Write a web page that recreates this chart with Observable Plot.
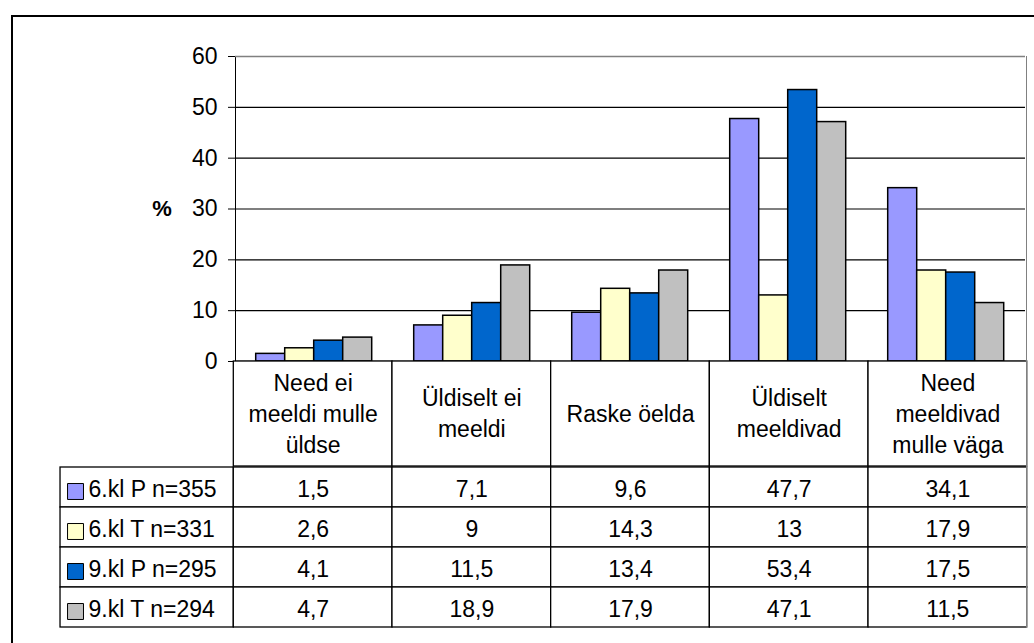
<!DOCTYPE html>
<html>
<head>
<meta charset="utf-8">
<script src="https://cdn.jsdelivr.net/npm/d3@7"></script>
<script src="https://cdn.jsdelivr.net/npm/@observablehq/plot@0.6"></script>
<style>
  html, body { margin: 0; padding: 0; background: #fff; overflow: hidden; }
  #fig { position: relative; width: 1034px; height: 643px; overflow: hidden; font-family: "Liberation Sans", Arial, sans-serif; }
  #frame { position: absolute; left: 11px; top: 15px; width: 1100px; height: 700px; border-left: 2px solid #000; border-top: 2px solid #000; }
  .layer { position: absolute; left: 0; }
  .layer svg { overflow: visible; }
  #rightEdge { position: absolute; left: 1025.5px; top: 56px; width: 1.5px; height: 572px; background: #808080; }
</style>
</head>
<body>
<div id="fig">
  <div id="frame"></div>
  <div id="chart" class="layer" style="top:0"></div>
  <div id="header" class="layer" style="top:361px"></div>
  <div id="table" class="layer" style="top:466px"></div>
  <div id="rightEdge"></div>
</div>
<script>
// ---- data ----
const categories = ["Need ei meeldi mulle üldse", "Üldiselt ei meeldi", "Raske öelda", "Üldiselt meeldivad", "Need meeldivad mulle väga"];
const categoryLabels = ["Need ei\nmeeldi mulle\nüldse", "Üldiselt ei\nmeeldi", "Raske öelda", "Üldiselt\nmeeldivad", "Need\nmeeldivad\nmulle väga"];
const seriesNames = ["6.kl P n=355", "6.kl T n=331", "9.kl P n=295", "9.kl T n=294"];
const p6 = [1.5, 7.1, 9.6, 47.7, 34.1];
const t6 = [2.6, 9, 14.3, 13, 17.9];
const p9 = [4.1, 11.5, 13.4, 53.4, 17.5];
const t9 = [4.7, 18.9, 17.9, 47.1, 11.5];
const colors = ["#9999FF", "#FFFFCC", "#0066CC", "#C0C0C0"];
const yTicks = [0, 10, 20, 30, 40, 50, 60];
const axisLabel = "%";

const seriesValues = [p6, t6, p9, t9];
const data = [];
seriesNames.forEach((s, si) => categories.forEach((c, ci) => data.push({series: s, category: c, ci, value: seriesValues[si][ci]})));
const fmt = v => String(v).replace(".", ",");

const font = {fontFamily: "'Liberation Sans', Arial, sans-serif", fontSize: "23px", background: "transparent", overflow: "visible", color: "#000"};
const W = 1034, ML = 233.3, MR = 7.3;
const legendStart = -1.092; // legend column, in units of one category column

// ---- bar chart ----
const chart = Plot.plot({
  width: W, height: 362,
  marginLeft: ML, marginRight: MR, marginTop: 56, marginBottom: 1,
  style: font,
  fx: {domain: categories, padding: 0, axis: null, label: null},
  x: {domain: seriesNames, paddingInner: 0, paddingOuter: 0.713, axis: null},
  y: {domain: [0, 60], ticks: yTicks, tickSize: 7, tickPadding: 11, label: null, line: true},
  color: {domain: seriesNames, range: colors},
  marks: [
    Plot.ruleY(yTicks.filter(t => t > 0 && t < 60), {stroke: "#000", strokeWidth: 1.2}),
    Plot.ruleY([60], {stroke: "#808080", strokeWidth: 1.5}),
    Plot.barY(data, {fx: "category", x: "series", y: "value", fill: "series", stroke: "#000", strokeWidth: 1.5}),
    Plot.ruleY([0], {stroke: "#000", strokeWidth: 1.5}),
    Plot.text([axisLabel], {fx: () => categories[0], y: () => 30, text: d => d, frameAnchor: "left", textAnchor: "middle", dx: -73.5, fontWeight: "bold", fontSize: 22})
  ]
});
document.getElementById("chart").appendChild(chart);

// ---- header row (category labels) ----
const header = Plot.plot({
  width: W, height: 105,
  marginLeft: ML, marginRight: MR, marginTop: 0, marginBottom: 0,
  style: font,
  x: {domain: [0, 5], axis: null},
  marks: [
    Plot.barX(categories, {x1: (d, i) => i, x2: (d, i) => i + 1, fill: "white", stroke: "#000", strokeWidth: 1.3}),
    Plot.text(categoryLabels, {x: (d, i) => i + 0.5, text: d => d, lineHeight: 1.35, dy: -2})
  ]
});
document.getElementById("header").appendChild(header);

// ---- data table ----
const table = Plot.plot({
  width: W, height: 162,
  marginLeft: ML, marginRight: MR, marginTop: 0, marginBottom: 0,
  style: font,
  x: {domain: [0, 5], axis: null},
  y: {domain: seriesNames, padding: 0, axis: null},
  color: {domain: seriesNames, range: colors},
  marks: [
    Plot.barX(seriesNames, {x1: legendStart, x2: 0, y: d => d, fill: "white", stroke: "#000", strokeWidth: 1.3}),
    Plot.barX(data, {x1: "ci", x2: d => d.ci + 1, y: "series", fill: "white", stroke: "#000", strokeWidth: 1.3}),
    Plot.text(data, {x: d => d.ci + 0.5, y: "series", text: d => fmt(d.value), dy: 2}),
    Plot.dot(seriesNames, {x: legendStart, y: d => d, dx: 15, dy: 4, symbol: "square", r: 9, fill: d => d, stroke: "#000", strokeWidth: 1}),
    Plot.text(seriesNames, {x: legendStart, y: d => d, dx: 28, dy: 2, textAnchor: "start", text: d => d})
  ]
});
document.getElementById("table").appendChild(table);
</script>
</body>
</html>
